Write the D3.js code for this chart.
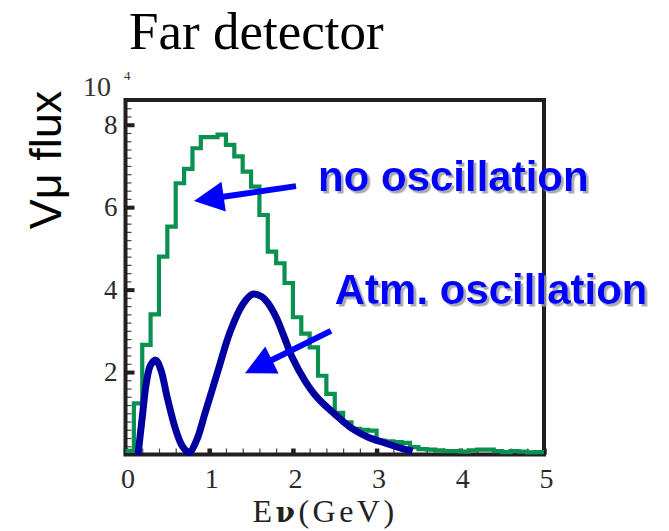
<!DOCTYPE html>
<html>
<head>
<meta charset="utf-8">
<script src="https://cdn.jsdelivr.net/npm/d3@7"></script>
<style>
  html, body { margin: 0; padding: 0; background: #ffffff; }
  svg { display: block; }
</style>
</head>
<body>
<svg id="chart" width="669" height="531"></svg>
<script>
// ---------------- data ----------------
// "no oscillation" histogram: bins of 0.1 GeV from 0 to 5 GeV (units of 10^4)
const binWidth = 0.1;
const noOscValues = [
  0.09, 1.24, 2.66, 3.40, 4.80, 5.53, 6.58, 6.93, 7.43, 7.70,
  7.70, 7.76, 7.51, 7.23, 6.86, 6.50, 5.81, 4.92, 4.64, 4.16,
  3.33, 2.93, 2.60, 1.91, 1.47, 1.01, 0.78, 0.62, 0.60, 0.58,
  0.34, 0.32, 0.30, 0.28, 0.18, 0.13, 0.12, 0.10, 0.08, 0.08,
  0.07, 0.10, 0.12, 0.12, 0.08, 0.06, 0.08, 0.07, 0.05, 0.06
];
// "Atm. oscillation" curve
const atmEnergy = [0.15, 0.2, 0.25, 0.3, 0.36, 0.42, 0.5, 0.6, 0.68, 0.76, 0.85, 0.95, 1.1, 1.25, 1.4,
                   1.52, 1.62, 1.7, 1.8, 1.9, 2.0, 2.15, 2.3, 2.5, 2.7, 2.9, 3.1, 3.3, 3.43];
const atmFlux   = [0.0, 0.9, 1.75, 2.17, 2.29, 2.07, 1.37, 0.6, 0.2, 0.05, 0.35, 1.0, 2.0, 2.98, 3.64,
                   3.89, 3.84, 3.68, 3.33, 2.83, 2.32, 1.77, 1.36, 0.98, 0.64, 0.42, 0.28, 0.15, 0.08];
// axes
const xTickValues = [0, 1, 2, 3, 4, 5];
const yTickValues = [2, 4, 6, 8];
const xDomain = [0, 5];
const yDomain = [0, 8.6];
// annotations (data coordinates)
const labelTexts = ["no oscillation", "Atm. oscillation"];
const labelE = [2.30, 2.50];
const labelV = [6.39, 3.65];
const arrowFromE = [2.037, 2.455];
const arrowFromV = [6.51, 3.00];
const arrowToE = [0.818, 1.428];
const arrowToV = [6.15, 1.97];

// ---------------- drawing ----------------
const svg = d3.select("#chart");
const x = d3.scaleLinear().domain(xDomain).range([125.5, 544]);
const y = d3.scaleLinear().domain(yDomain).range([454.5, 100]);
const frameColor = "#231f20";
const serif = "'Liberation Serif', 'Times New Roman', serif";
const sans = "'Liberation Sans', Arial, Helvetica, sans-serif";

// drop shadow filter for annotation labels
const defs = svg.append("defs");
const filt = defs.append("filter").attr("id", "shadow")
  .attr("x", "-5%").attr("y", "-20%").attr("width", "115%").attr("height", "150%");
filt.append("feDropShadow")
  .attr("dx", 2.5).attr("dy", 2.5).attr("stdDeviation", 0.6)
  .attr("flood-color", "#9a9a9a").attr("flood-opacity", 0.85);

// Title
svg.append("text")
  .attr("x", 129).attr("y", 49)
  .attr("font-family", serif).attr("font-size", 53)
  .attr("fill", "#000")
  .text("Far detector");

// x10^4 exponent
svg.append("text")
  .attr("x", 83).attr("y", 96)
  .attr("font-family", serif).attr("font-size", 28)
  .attr("fill", "#333")
  .text("10");
svg.append("text")
  .attr("x", 124).attr("y", 80)
  .attr("font-family", serif).attr("font-size", 13)
  .attr("fill", "#333")
  .text("4");

// Y axis title
svg.append("text")
  .attr("transform", "translate(61,160) rotate(-90)")
  .attr("text-anchor", "middle")
  .attr("font-family", sans).attr("font-size", 45)
  .attr("fill", "#000")
  .text("Vμ flux");

// X axis title
const xt = svg.append("text")
  .attr("x", 325).attr("y", 522)
  .attr("text-anchor", "middle")
  .attr("font-family", serif).attr("font-size", 32)
  .attr("letter-spacing", 3.5)
  .attr("fill", "#222");
xt.append("tspan").text("E");
xt.append("tspan").attr("font-weight", "bold").attr("font-family", "'DejaVu Serif', serif").attr("font-size", 28).text("ν");
xt.append("tspan").text("(GeV)");

// Minor ticks
const yMinor = d3.range(0, 8.61, 0.2).filter(v => Math.abs(v - Math.round(v / 2) * 2) > 1e-6);
const xMinor = d3.range(0, 5.01, 0.2).filter(v => Math.abs(v - Math.round(v)) > 1e-6);

const gyMinor = svg.append("g").attr("transform", `translate(${x.range()[0]},0)`)
  .call(d3.axisLeft(y).tickValues(yMinor).tickSize(-6).tickFormat(""));
gyMinor.select(".domain").remove();
gyMinor.selectAll("line").attr("stroke", "#444").attr("stroke-width", 1.2);

const gxMinor = svg.append("g").attr("transform", `translate(0,${y.range()[0]})`)
  .call(d3.axisBottom(x).tickValues(xMinor).tickSize(-6).tickFormat(""));
gxMinor.select(".domain").remove();
gxMinor.selectAll("line").attr("stroke", "#444").attr("stroke-width", 1.2);

// Major ticks + labels
const gy = svg.append("g").attr("transform", `translate(${x.range()[0]},0)`)
  .call(d3.axisLeft(y).tickValues(yTickValues).tickSize(-9).tickPadding(8).tickFormat(d3.format("d")));
gy.select(".domain").remove();
gy.selectAll("line").attr("stroke", frameColor).attr("stroke-width", 4);
gy.selectAll("text").attr("font-family", serif).attr("font-size", 27).attr("fill", "#2a2a2a");

const gx = svg.append("g").attr("transform", `translate(0,${y.range()[0]})`)
  .call(d3.axisBottom(x).tickValues(xTickValues).tickSize(-6).tickPadding(14).tickFormat(d3.format("d")));
gx.select(".domain").remove();
gx.selectAll("line").attr("stroke", frameColor).attr("stroke-width", 4.5);
gx.selectAll("text").attr("font-family", serif).attr("font-size", 28).attr("fill", "#2a2a2a")
  .attr("dy", "0.71em").attr("dx", 2);

// Frame
svg.append("rect")
  .attr("x", x.range()[0]).attr("y", y.range()[1])
  .attr("width", x.range()[1] - x.range()[0])
  .attr("height", y.range()[0] - y.range()[1])
  .attr("fill", "none").attr("stroke", frameColor).attr("stroke-width", 4);

// Histogram (no oscillation)
const histPts = noOscValues.map((v, i) => [i * binWidth, v]);
histPts.push([noOscValues.length * binWidth, noOscValues[noOscValues.length - 1]]);
const histLine = d3.line().x(d => x(d[0])).y(d => y(d[1])).curve(d3.curveStepAfter);
svg.append("path")
  .attr("d", histLine(histPts))
  .attr("fill", "none").attr("stroke", "#0a9150").attr("stroke-width", 4.2)
  .attr("stroke-linejoin", "miter");

// Atm. oscillation curve
const atmPts = atmEnergy.map((e, i) => [e, atmFlux[i]]);
const curveLine = d3.line().x(d => x(d[0])).y(d => y(d[1])).curve(d3.curveCatmullRom.alpha(0.5));
svg.append("path")
  .attr("d", curveLine(atmPts))
  .attr("fill", "none").attr("stroke", "#0000a0").attr("stroke-width", 7)
  .attr("stroke-linejoin", "round");

// Arrows
const arrowBlue = "#0000ff";
arrowFromE.forEach((e0, i) => {
  const x0 = x(e0), y0 = y(arrowFromV[i]);
  const x1 = x(arrowToE[i]), y1 = y(arrowToV[i]);
  const len = Math.hypot(x1 - x0, y1 - y0);
  const ux = (x1 - x0) / len, uy = (y1 - y0) / len;
  const headLen = 30, headHalf = 15;
  const bx = x1 - ux * headLen, by = y1 - uy * headLen;
  svg.append("line")
    .attr("x1", x0).attr("y1", y0)
    .attr("x2", bx + ux * 4).attr("y2", by + uy * 4)
    .attr("stroke", arrowBlue).attr("stroke-width", 6);
  svg.append("path")
    .attr("d", `M${x1},${y1}L${bx - uy * headHalf},${by + ux * headHalf}L${bx + uy * headHalf},${by - ux * headHalf}Z`)
    .attr("fill", arrowBlue);
});

// Labels with shadow
labelTexts.forEach((t, i) => {
  svg.append("text")
    .attr("x", x(labelE[i])).attr("y", y(labelV[i]))
    .attr("font-family", sans).attr("font-weight", "bold").attr("font-size", 42)
    .attr("fill", "#0000ff")
    .attr("filter", "url(#shadow)")
    .text(t);
});
</script>
</body>
</html>
